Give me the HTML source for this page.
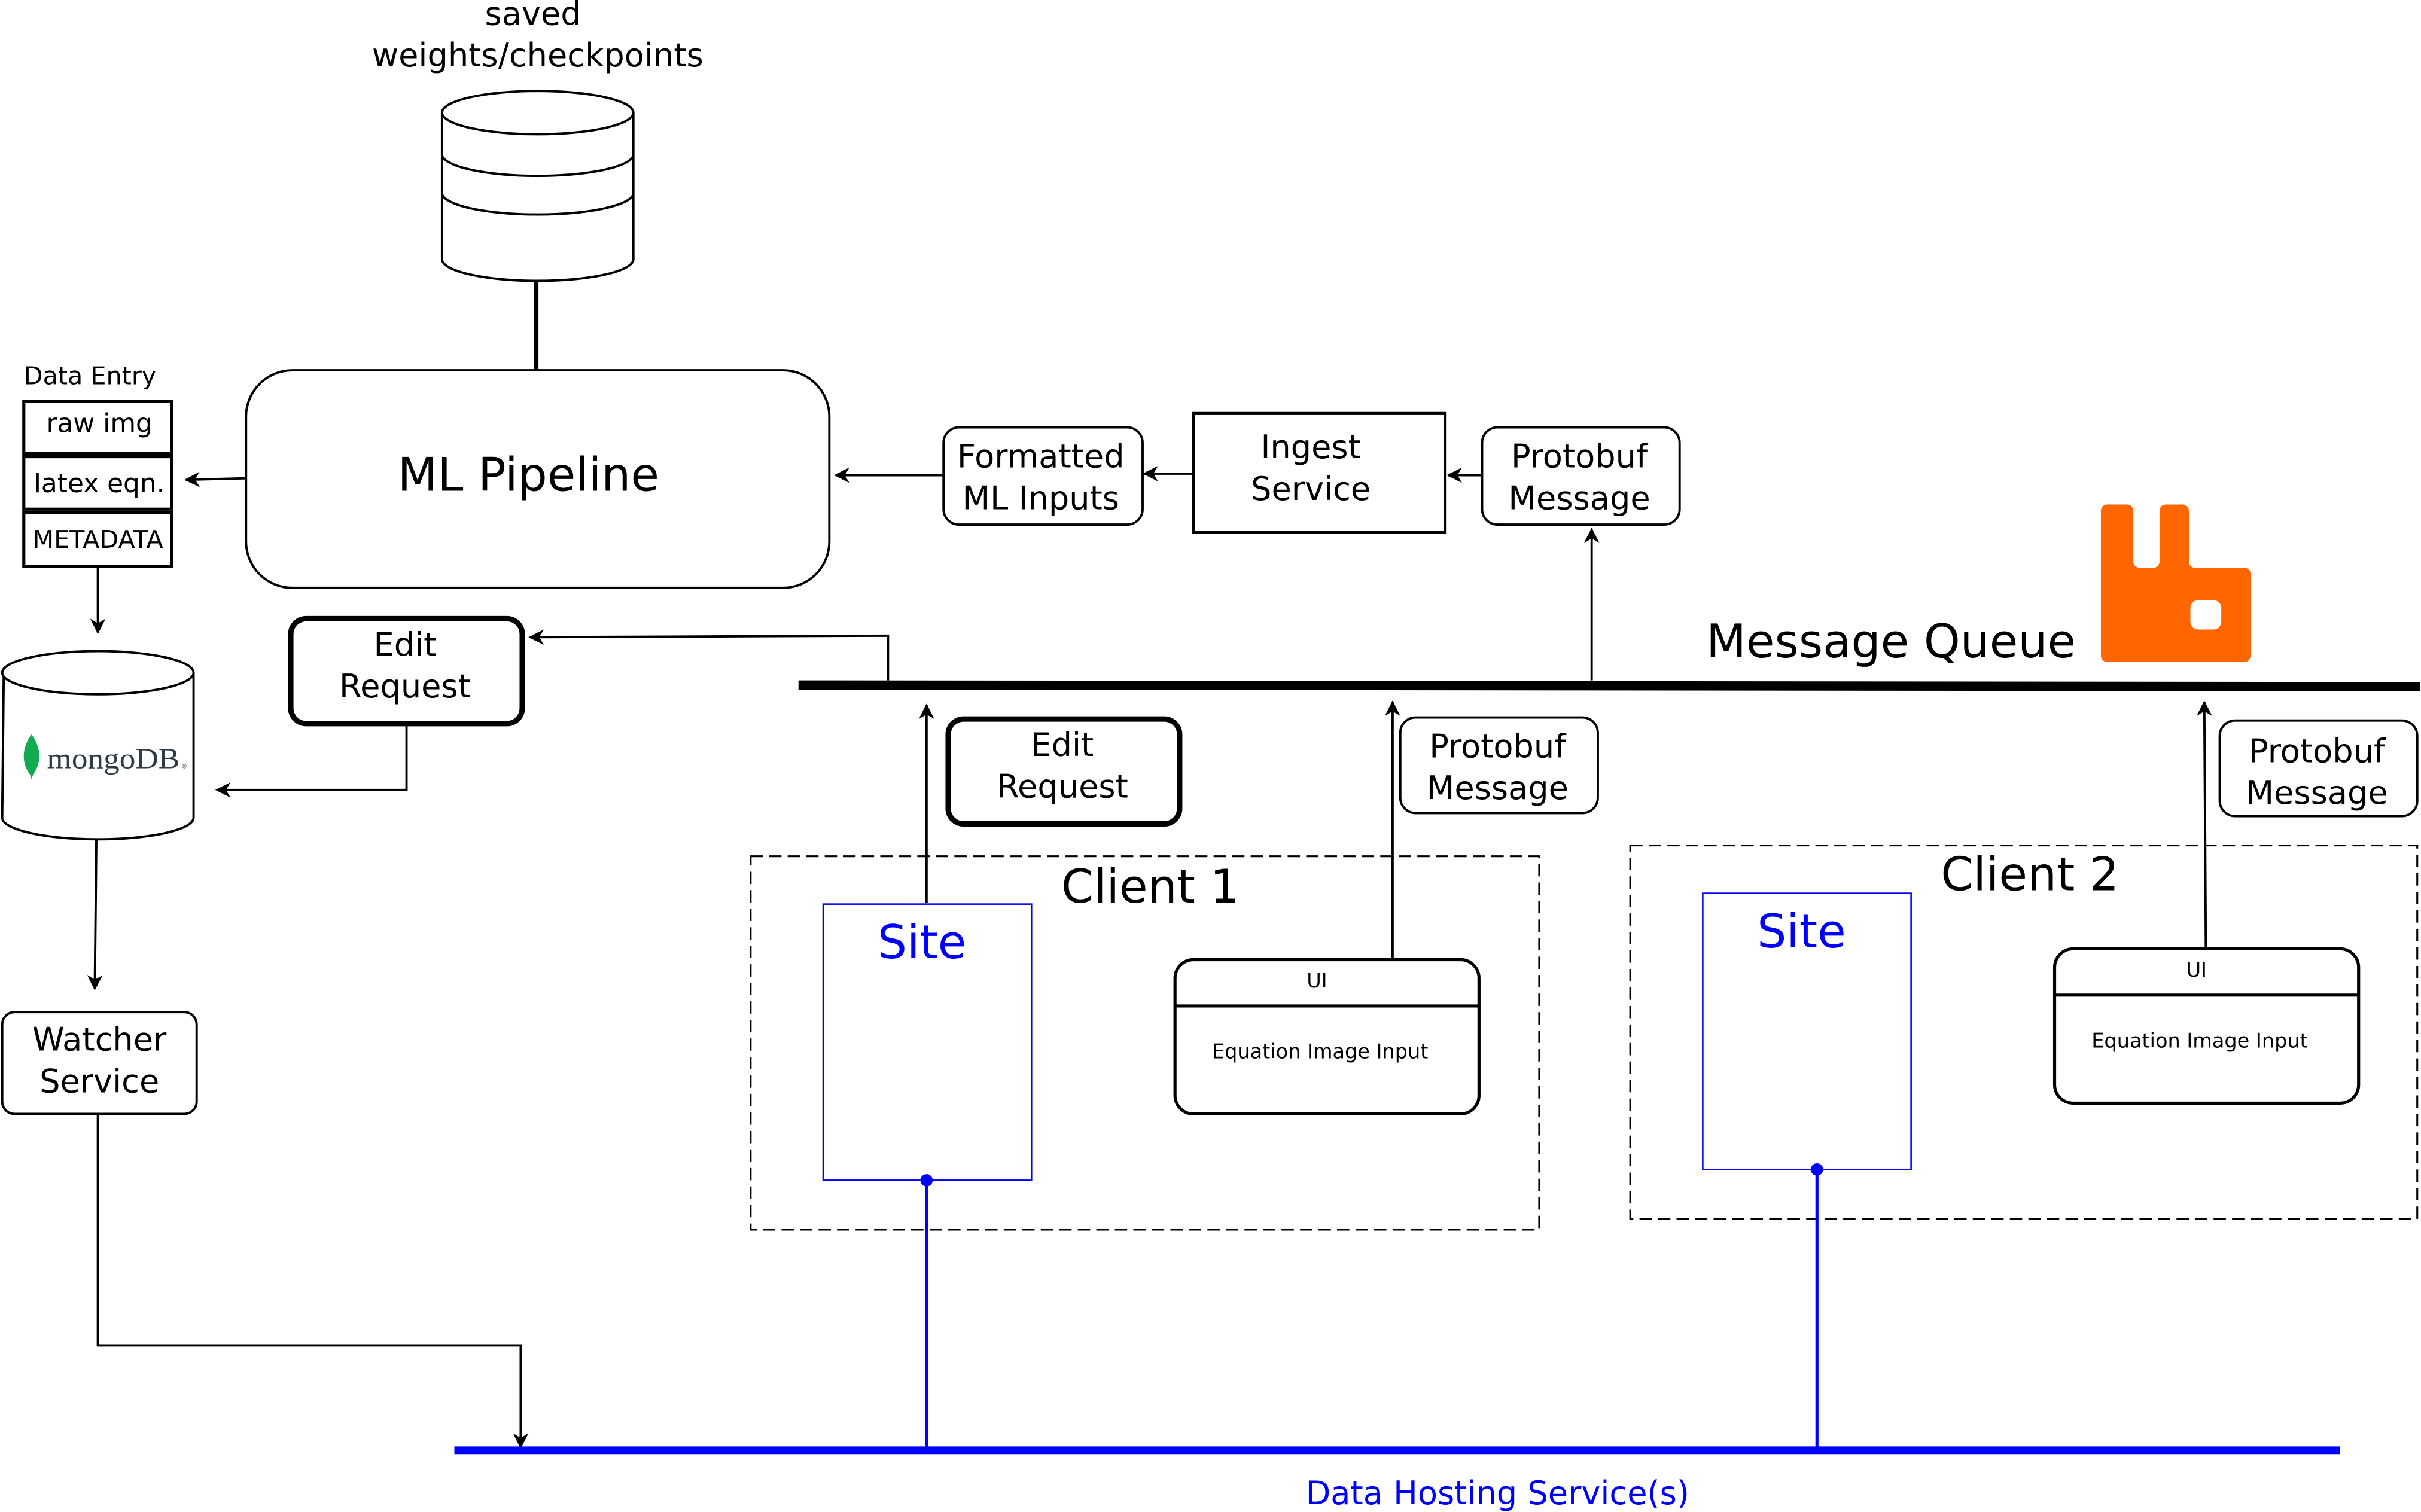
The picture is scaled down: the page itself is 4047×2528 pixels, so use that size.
<!DOCTYPE html>
<html><head><meta charset="utf-8"><style>
html,body{margin:0;padding:0;background:#fff;}
svg{display:block;}
text{font-family:"DejaVu Sans","Liberation Sans",sans-serif;}
</style></head><body>
<svg width="4047" height="2528" viewBox="0 0 1568 980" xmlns="http://www.w3.org/2000/svg">
<defs>
<marker id="a" markerWidth="10" markerHeight="10" refX="9" refY="5" orient="auto" markerUnits="userSpaceOnUse">
<path d="M0,0 L10,5 L0,10 L3,5 Z" fill="#000"/></marker>
</defs>
<rect width="1568" height="980" fill="#fff"/>
<g fill="none" stroke="#000">
<path d="M286,73 L286,168 A62,14 0 0 0 410,168 L410,73" stroke-width="1.5" fill="#fff"/>
<ellipse cx="348" cy="73" rx="62" ry="14" stroke-width="1.5" fill="#fff"/>
<path d="M286,100 A62,14 0 0 0 410,100 M286,125 A62,14 0 0 0 410,125" stroke-width="1.5"/>
<line x1="347" y1="182" x2="347" y2="240" stroke-width="3"/>
<rect x="159" y="240" width="378" height="141" rx="30" stroke-width="1.5"/>
<rect x="15" y="260" width="96" height="34" stroke-width="2"/>
<rect x="15" y="296" width="96" height="34" stroke-width="2"/>
<rect x="15" y="332" width="96" height="35" stroke-width="2"/>
<line x1="159" y1="310" x2="120" y2="311" stroke-width="1.5" marker-end="url(#a)"/>
<line x1="63" y1="367" x2="63" y2="410" stroke-width="1.5" marker-end="url(#a)"/>
<path d="M2,436 L1,530 A62,14 0 0 0 125,530 L125,436" stroke-width="1.5" fill="#fff"/>
<ellipse cx="63" cy="436" rx="62" ry="14" stroke-width="1.5" fill="#fff"/>
<line x1="62" y1="544" x2="61" y2="641" stroke-width="1.5" marker-end="url(#a)"/>
<rect x="1" y="656" width="126" height="66" rx="8" stroke-width="1.5"/>
<polyline points="63,722 63,872 337,872 337,938" stroke-width="1.5" marker-end="url(#a)"/>
<rect x="188" y="401" width="150" height="68" rx="10" stroke-width="3.5"/>
<polyline points="263,469 263,512 140,512" stroke-width="1.5" marker-end="url(#a)"/>
<line x1="517" y1="444" x2="1568" y2="445" stroke-width="6"/>
<polyline points="575,441 575,412 343,413" stroke-width="1.5" marker-end="url(#a)"/>
<line x1="1031" y1="441" x2="1031" y2="343" stroke-width="1.5" marker-end="url(#a)"/>
<rect x="960" y="277" width="128" height="63" rx="10" stroke-width="1.5"/>
<rect x="773" y="268" width="163" height="77" stroke-width="2"/>
<line x1="960" y1="308" x2="938" y2="308" stroke-width="1.5" marker-end="url(#a)"/>
<rect x="611" y="277" width="129" height="63" rx="10" stroke-width="1.5"/>
<line x1="773" y1="307" x2="741" y2="307" stroke-width="1.5" marker-end="url(#a)"/>
<line x1="611" y1="308" x2="541" y2="308" stroke-width="1.5" marker-end="url(#a)"/>
<rect x="614" y="466" width="150" height="68" rx="10" stroke-width="3.5"/>
<line x1="600" y1="585" x2="600" y2="457" stroke-width="1.5" marker-end="url(#a)"/>
<rect x="907" y="465" width="128" height="62" rx="10" stroke-width="1.5"/>
<line x1="902" y1="622" x2="902" y2="455" stroke-width="1.5" marker-end="url(#a)"/>
<rect x="1438" y="467" width="128" height="62" rx="10" stroke-width="1.5"/>
<line x1="1429" y1="615" x2="1428" y2="455" stroke-width="1.5" marker-end="url(#a)"/>
<rect x="486" y="555" width="511" height="242" stroke-width="1.2" stroke-dasharray="8,4"/>
<rect x="1056" y="548" width="510" height="242" stroke-width="1.2" stroke-dasharray="8,4"/>
<rect x="761" y="622" width="197" height="100" rx="12" stroke-width="2"/>
<line x1="761" y1="652" x2="958" y2="652" stroke-width="2"/>
<rect x="1331" y="615" width="197" height="100" rx="12" stroke-width="2"/>
<line x1="1331" y1="645" x2="1528" y2="645" stroke-width="2"/>
</g>
<g fill="none" stroke="#0000ff">
<rect x="533" y="586" width="135" height="179" stroke-width="1"/>
<rect x="1103" y="579" width="135" height="179" stroke-width="1"/>
<line x1="600" y1="765" x2="600" y2="940" stroke-width="2"/>
<line x1="1177" y1="758" x2="1177" y2="940" stroke-width="2"/>
<line x1="294" y1="940" x2="1516" y2="940" stroke-width="5"/>
</g>
<circle cx="600" cy="765" r="4" fill="#0000ff"/>
<circle cx="1177" cy="758" r="4" fill="#0000ff"/>
<path fill="#ff6600" d="M1365,327 H1378 A4,4 0 0 1 1382,331 V364 A4,4 0 0 0 1386,368 H1395 A4,4 0 0 0 1399,364 V331 A4,4 0 0 1 1403,327 H1414 A4,4 0 0 1 1418,331 V364 A4,4 0 0 0 1422,368 H1454 A4,4 0 0 1 1458,372 V425 A4,4 0 0 1 1454,429 H1365 A4,4 0 0 1 1361,425 V331 A4,4 0 0 1 1365,327 Z"/>
<rect x="1419" y="389" width="20" height="19" rx="5" fill="#fff"/>
<path d="M20,476 C26,484 27,494 21,502 L20,505 L19,502 C13,494 14,484 20,476 Z" fill="#13aa52"/>
<text x="30" y="498" font-size="19" fill="#2d3b45" textLength="86" lengthAdjust="spacingAndGlyphs" style="font-family:'Liberation Serif',serif">mongoDB</text>
<text x="117" y="498" font-size="4" fill="#2d3b45">®</text>
<g font-size="21" text-anchor="middle" fill="#000">
<text x="345" y="16">saved</text>
<text x="348" y="43">weights/checkpoints</text>
<text x="342" y="318" font-size="30">ML Pipeline</text>
<text x="64" y="681">Watcher</text>
<text x="64" y="708">Service</text>
<text x="262" y="425">Edit</text>
<text x="262" y="452">Request</text>
<text x="688" y="490">Edit</text>
<text x="688" y="517">Request</text>
<text x="1023" y="303">Protobuf</text>
<text x="1023" y="330">Message</text>
<text x="849" y="297">Ingest</text>
<text x="849" y="324">Service</text>
<text x="674" y="303">Formatted</text>
<text x="674" y="330">ML Inputs</text>
<text x="970" y="491">Protobuf</text>
<text x="970" y="518">Message</text>
<text x="1501" y="494">Protobuf</text>
<text x="1501" y="521">Message</text>
<text x="1225" y="426" font-size="30">Message Queue</text>
<text x="745" y="585" font-size="30">Client 1</text>
<text x="1315" y="577" font-size="30">Client 2</text>
<text x="597" y="621" font-size="30" fill="#0000ff">Site</text>
<text x="1167" y="614" font-size="30" fill="#0000ff">Site</text>
<text x="970" y="975" fill="#0000ff">Data Hosting Service(s)</text>
<text x="853" y="640" font-size="13">UI</text>
<text x="855" y="686" font-size="13">Equation Image Input</text>
<text x="1423" y="633" font-size="13">UI</text>
<text x="1425" y="679" font-size="13">Equation Image Input</text>
<text x="64" y="280" font-size="17">raw img</text>
<text x="64" y="319" font-size="17">latex eqn.</text>
<text x="63" y="355" font-size="16">METADATA</text>
</g>
<text x="15" y="249" font-size="16" fill="#000">Data Entry</text>
</svg>
</body></html>
